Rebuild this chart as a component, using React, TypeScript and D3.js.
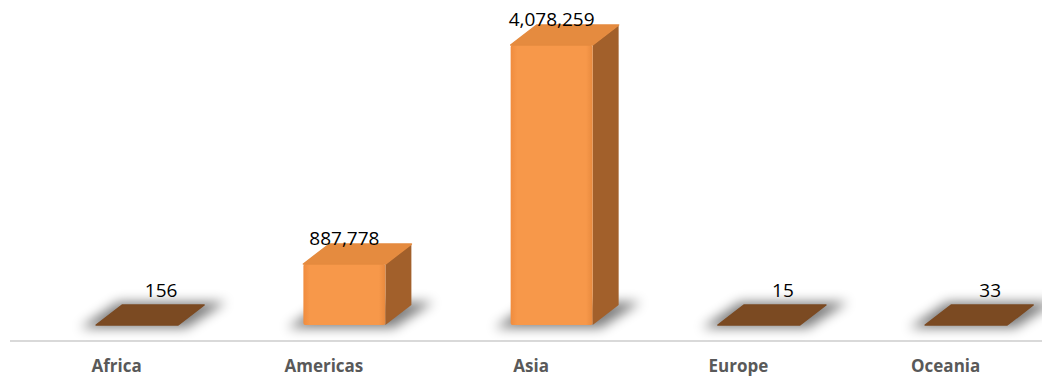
import React from "react";
import * as d3 from "d3";

const categories = ["Africa", "Americas", "Asia", "Europe", "Oceania"];
const values = [156, 887778, 4078259, 15, 33];

const W = 1042;
const H = 377;

export default function App() {
  const x = d3.scaleBand<string>().domain(categories).range([13, 1049.3]).padding(0);
  const y = d3.scaleLinear().domain([0, 4078259]).range([325, 45]);
  const fmt = d3.format(",");
  const frontW = 82;
  const dx = 26;
  const dy = -20;
  const base = y(0);

  return (
    <svg width={W} height={H} style={{ position: "absolute", left: 0, top: 0 }}>
      <defs>
        <filter id="blur" x="-50%" y="-100%" width="200%" height="300%">
          <feGaussianBlur stdDeviation="6" />
        </filter>
        <linearGradient id="front" x1="0" x2="1" y1="0" y2="0">
          <stop offset="0" stopColor="#F08C3E" />
          <stop offset="0.08" stopColor="#F7984A" />
          <stop offset="0.92" stopColor="#F7984A" />
          <stop offset="1" stopColor="#E88A3E" />
        </linearGradient>
      </defs>
      <rect x={0} y={0} width={W} height={H} fill="#ffffff" />
      <line x1={10} x2={1042} y1={341} y2={341} stroke="#D9D9D9" strokeWidth={2} />
      {categories.map((c, i) => {
        const v = values[i];
        const cx = (x(c) as number) + x.bandwidth() / 2;
        const left = cx - 20.5;
        const right = left + frontW;
        const top = y(v);
        const h = base - top;
        const flat = h < 3;
        const shadow = `M${left - 16},${base + 3} L${right + 8},${base + 3} L${right + dx + 22},${base + dy - 3} L${left + dx - 4},${base + dy - 3} Z`;
        const topFace = `M${left},${top} L${right},${top} L${right + dx},${top + dy} L${left + dx},${top + dy} Z`;
        const sideFace = `M${right},${top} L${right + dx},${top + dy} L${right + dx},${base + dy} L${right},${base} Z`;
        const labelX = flat ? left + frontW / 2 + 24 : left + frontW / 2;
        const labelY = flat ? top - 28 : top - 19;
        return (
          <g key={c}>
            <path d={shadow} fill="#000" opacity={0.5} filter="url(#blur)" />
            {!flat && (
              <>
                <path d={sideFace} fill="#A2602B" />
                <rect x={left} y={top} width={frontW} height={h} fill="url(#front)" rx={2} />
              </>
            )}
            <path d={topFace} fill={flat ? "#7B4A22" : "#E58B3F"} stroke={flat ? "#7B4A22" : "#E58B3F"} strokeLinejoin="round" strokeWidth={1.5} />
            <text
              x={labelX}
              y={labelY}
              textAnchor="middle"
              fontFamily="'Open Sans', sans-serif"
              fontSize={19}
              fill="#000"
            >
              {fmt(v)}
            </text>
            <text
              x={cx}
              y={372}
              textAnchor="middle"
              fontFamily="'Open Sans', sans-serif"
              fontWeight="bold"
              fontSize={17}
              fill="#595959"
            >
              {c}
            </text>
          </g>
        );
      })}
    </svg>
  );
}
